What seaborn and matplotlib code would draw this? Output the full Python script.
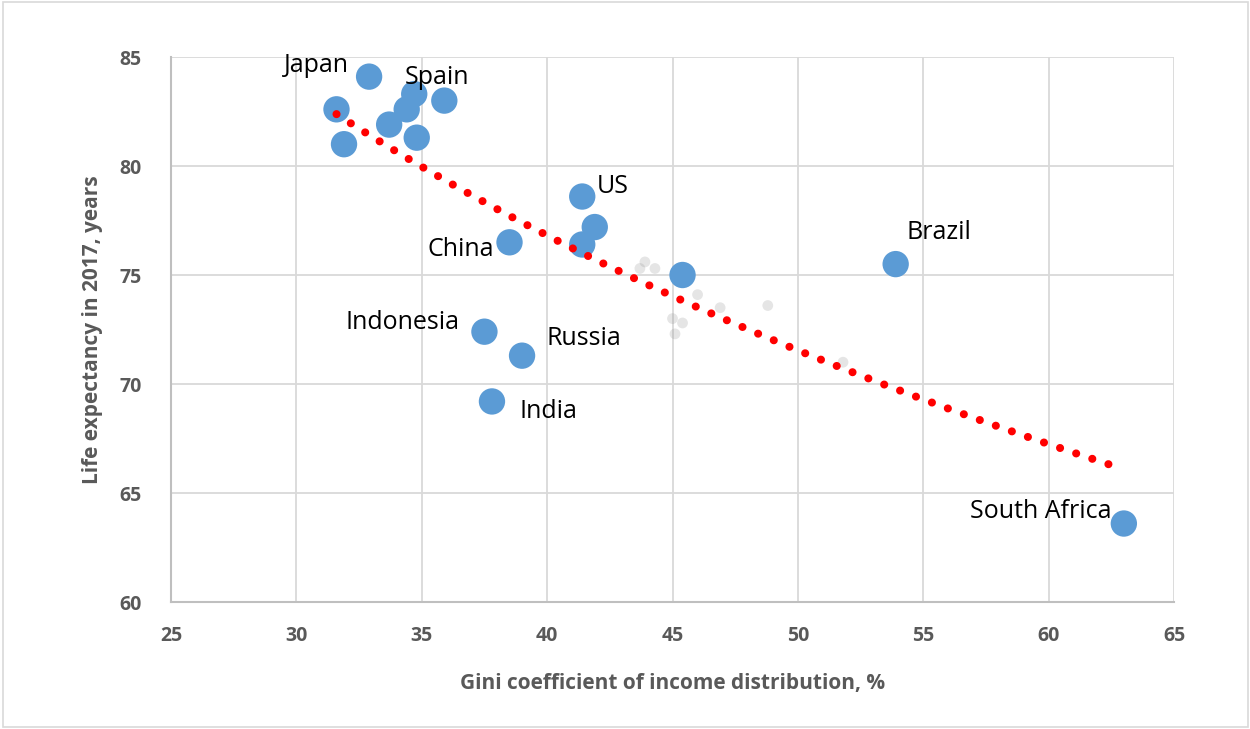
import numpy as np
import pandas as pd
import matplotlib
matplotlib.use("Agg")
import matplotlib.pyplot as plt
import seaborn as sns

# Countries: Gini coefficient (%) vs life expectancy in 2017 (years)
gini = [32.9, 31.6, 31.9, 33.7, 34.4, 34.7, 34.8, 35.9, 41.4, 41.9, 41.4, 38.5,
        45.4, 53.9, 37.5, 39.0, 37.8, 63.0]
life = [84.1, 82.6, 81.0, 81.9, 82.6, 83.3, 81.3, 83.0, 78.6, 77.2, 76.4, 76.5,
        75.0, 75.5, 72.4, 71.3, 69.2, 63.6]

# Labelled countries and where their names sit
label_names = ["Japan", "Spain", "US", "China", "Brazil", "Indonesia", "Russia", "India", "South Africa"]
label_x = [32.10, 34.33, 41.99, 37.88, 54.35, 36.49, 39.96, 38.88, 62.49]
label_y = [84.59, 84.04, 79.08, 76.19, 76.93, 72.80, 72.11, 68.76, 64.17]
label_ha = ["right", "left", "left", "right", "left", "right", "left", "left", "right"]

# Faint background observations
faint_gini = [43.7, 44.3, 43.9, 46.0, 46.9, 45.0, 45.4, 45.1, 48.8, 51.8]
faint_life = [75.3, 75.3, 75.6, 74.1, 73.5, 73.0, 72.8, 72.3, 73.6, 71.0]

# Logarithmic trend: life = a + b * ln(gini)
trend_a = 163.91
trend_b = -23.61
trend_range = [31.6, 62.5]

sns.set_theme(style="white")
plt.rcParams["font.family"] = ["Open Sans", "DejaVu Sans"]

fig = plt.figure(figsize=(12.5, 7.29), dpi=100)
ax = fig.add_axes([0.1368, 0.1742, 0.8024, 0.7476])

grid_c = "#d9d9d9"
ax.set_xlim(25, 65)
ax.set_ylim(60, 85)
ax.set_xticks(np.arange(25, 66, 5))
ax.set_yticks(np.arange(60, 86, 5))
ax.grid(True, color=grid_c, linewidth=1.3)
ax.set_axisbelow(True)
for s in ["top", "right"]:
    ax.spines[s].set_visible(False)
for s in ["left", "bottom"]:
    ax.spines[s].set_color("#bfbfbf")
    ax.spines[s].set_linewidth(1.5)
ax.tick_params(axis="both", which="both", direction="out", length=6, width=1.2,
               color="#bfbfbf", labelcolor="#595959", labelsize=14, pad=6)
ax.tick_params(axis="y", length=0, pad=21)
ax.tick_params(axis="x", pad=11)
for t in ax.get_xticklabels() + ax.get_yticklabels():
    t.set_fontweight("bold")

# faint background points
sns.scatterplot(x=faint_gini, y=faint_life, ax=ax, s=60, color="#8a8a8a",
                alpha=0.22, edgecolor="none", zorder=1)

# country markers
df = pd.DataFrame({"gini": gini, "life": life})
sns.scatterplot(data=df, x="gini", y="life", ax=ax, s=360, color="#5b9bd5",
                edgecolor="none", zorder=2)

# trend line, drawn over the markers
tx = np.linspace(trend_range[0], trend_range[1], 300)
ty = trend_a + trend_b * np.log(tx)
ax.plot(tx, ty, color="#ff0000", linewidth=5.8, linestyle=(0, (0.01, 2.1)),
        dash_capstyle="round", zorder=3)

for name, x, y, ha in zip(label_names, label_x, label_y, label_ha):
    ax.text(x, y, name, ha=ha, va="center", fontsize=18, color="#000000", zorder=4)

ax.set_xlabel("Gini coefficient of income distribution, %", fontsize=15,
              fontweight="bold", color="#595959", labelpad=20)
ax.set_ylabel("Life expectancy in 2017, years", fontsize=15,
              fontweight="bold", color="#595959", labelpad=12)

# outer chart border
fig.patches.append(plt.Rectangle((0.002, 0.003), 0.996, 0.994, transform=fig.transFigure,
                                 fill=False, edgecolor="#d9d9d9", linewidth=1.2))

fig.savefig("out.png", dpi=100)
